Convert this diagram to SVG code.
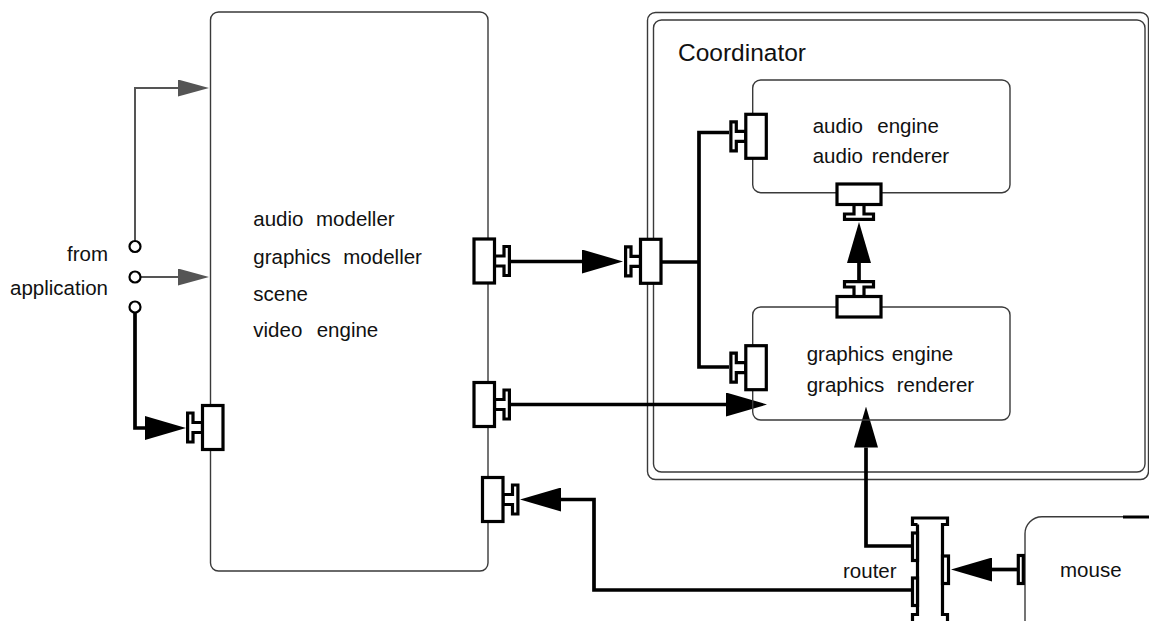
<svg xmlns="http://www.w3.org/2000/svg" xmlns:xlink="http://www.w3.org/1999/xlink" width="1149" height="621" viewBox="0 0 1149 621">
  <style>
    .box { fill: none; stroke: #3a3a3a; stroke-width: 1.4; }
    .lbl { font-family: "Liberation Sans", Arial, Helvetica, sans-serif; font-size: 20.5px; fill: #111; }
    .title { font-family: "Liberation Sans", Arial, Helvetica, sans-serif; font-size: 24.5px; fill: #111; }
    .port { fill: #fff; stroke: #000; stroke-width: 3.2; stroke-linejoin: miter; }
    .wire { fill: none; stroke: #000; stroke-width: 3.7; }
    .thin { fill: none; stroke: #555; stroke-width: 2; }
    .jack { fill: #fff; stroke: #000; stroke-width: 2.2; }
  </style>
  <defs>
    <!-- port: body plus T-shaped plug; origin at the plug tip, plug pointing +x -->
    <g id="port">
      <path class="port" d="M-16.5,-5 H-7 V-14.5 H-1.6 V14.5 H-7 V5 H-16.5 Z"/>
      <rect class="port" x="-37" y="-22" width="20.5" height="44"/>
    </g>
    <marker id="head" viewBox="0 -12 41 24" refX="0" refY="0" markerWidth="41" markerHeight="24" markerUnits="userSpaceOnUse" orient="auto">
      <path d="M0,-12 L41,0 L0,12 Z" fill="#000"/>
    </marker>
    <marker id="headGrey" viewBox="0 -8.5 31 17" refX="0" refY="0" markerWidth="31" markerHeight="17" markerUnits="userSpaceOnUse" orient="auto">
      <path d="M0,-8.5 L31,0 L0,8.5 Z" fill="#555"/>
    </marker>
  </defs>

  <rect width="1149" height="621" fill="#fff"/>

  <!-- main modelling process -->
  <g id="modeller">
    <rect class="box" x="210.5" y="12" width="277.5" height="559" rx="8"/>
    <text class="lbl" y="226"><tspan x="253.3">audio</tspan><tspan x="316">modeller</tspan></text>
    <text class="lbl" y="263.5"><tspan x="253.3">graphics</tspan><tspan x="343.3">modeller</tspan></text>
    <text class="lbl" x="253.3" y="301">scene</text>
    <text class="lbl" y="337"><tspan x="253.3">video</tspan><tspan x="316.7">engine</tspan></text>
    <use xlink:href="#port" transform="translate(186,427.5) scale(-1,1)"/>
    <use xlink:href="#port" transform="translate(511,261)"/>
    <use xlink:href="#port" transform="translate(511,404.5)"/>
    <use xlink:href="#port" transform="translate(519.5,499.5)"/>
  </g>

  <!-- application inputs -->
  <g id="application">
    <text class="lbl" x="108" y="261" text-anchor="end">from</text>
    <text class="lbl" x="108" y="295" text-anchor="end">application</text>
  </g>

  <!-- coordinator process -->
  <g id="coordinator">
    <rect class="box" x="647.5" y="12.5" width="501" height="467" rx="8"/>
    <rect class="box" x="653.5" y="20" width="491.5" height="452" rx="8"/>
    <text class="title" x="678" y="60.7">Coordinator</text>
  </g>

  <!-- connectors -->
  <g id="connectors">
    <path class="thin" d="M135,240.5 V88 H178" marker-end="url(#headGrey)"/>
    <path class="thin" d="M140.5,277 H178" marker-end="url(#headGrey)"/>
    <path class="wire" d="M135,312.5 V428 H145" marker-end="url(#head)"/>
    <path class="wire" d="M511,261.5 H582" marker-end="url(#head)"/>
    <path class="wire" d="M661,262 H699"/>
    <path class="wire" d="M729,132.5 H699 V367 H729"/>
    <path class="wire" d="M511,404.5 H726" marker-end="url(#head)"/>
    <path class="wire" d="M859,280 V263" marker-end="url(#head)"/>
    <path class="wire" d="M911,546 H866 V447.5" marker-end="url(#head)"/>
    <path class="wire" d="M911,590 H594 V499.5 H561" marker-end="url(#head)"/>
    <path class="wire" d="M1017,569.5 H992" marker-end="url(#head)"/>
  </g>

  <!-- input jacks drawn over the wires -->
  <g id="jacks">
    <circle class="jack" cx="135" cy="246.5" r="5.5"/>
    <circle class="jack" cx="135" cy="277" r="5.5"/>
    <circle class="jack" cx="135" cy="307" r="5.5"/>
  </g>

  <!-- coordinator input port -->
  <g id="coordinator-port">
    <use xlink:href="#port" transform="translate(624,261.3) scale(-1,1)"/>
  </g>

  <!-- audio engine -->
  <g id="audio">
    <rect class="box" x="752.7" y="80" width="257.3" height="112.7" rx="8"/>
    <text class="lbl" y="132.7"><tspan x="812.7">audio</tspan><tspan x="877.3">engine</tspan></text>
    <text class="lbl" y="163.3"><tspan x="812.7">audio</tspan><tspan x="871.7">renderer</tspan></text>
    <use xlink:href="#port" transform="translate(729.3,136.3) scale(-1,1)"/>
    <use xlink:href="#port" transform="translate(859,221) rotate(90)"/>
  </g>

  <!-- graphics engine -->
  <g id="graphics">
    <rect class="box" x="752.7" y="307" width="257.3" height="113" rx="8"/>
    <text class="lbl" y="360.7"><tspan x="806.7">graphics</tspan><tspan x="891.7">engine</tspan></text>
    <text class="lbl" y="391.7"><tspan x="806.7">graphics</tspan><tspan x="896.7">renderer</tspan></text>
    <use xlink:href="#port" transform="translate(729.3,367.7) scale(-1,1)"/>
    <use xlink:href="#port" transform="translate(859,280) rotate(-90)"/>
  </g>

  <!-- router -->
  <g id="router">
    <path class="port" d="M917.5,524.5 H912.5 V518 H947.5 V524.5 H942.5 V614.5 H947.5 V626 M917.5,524.5 V614.5 H912.5 V626" fill="none"/>
    <rect class="port" x="912.5" y="533" width="5" height="27.5"/>
    <rect class="port" x="912.5" y="578" width="5" height="27.5"/>
    <rect class="port" x="942.5" y="556" width="6" height="27.5"/>
    <text class="lbl" x="843" y="578.3">router</text>
  </g>

  <!-- mouse device -->
  <g id="mouse">
    <rect class="box" x="1025" y="516.7" width="200" height="120" rx="17"/>
    <path d="M1123,517 H1150" stroke="#000" stroke-width="3"/>
    <rect class="port" x="1018.3" y="555.5" width="5" height="28"/>
    <text class="lbl" x="1060" y="576.7">mouse</text>
  </g>
</svg>
